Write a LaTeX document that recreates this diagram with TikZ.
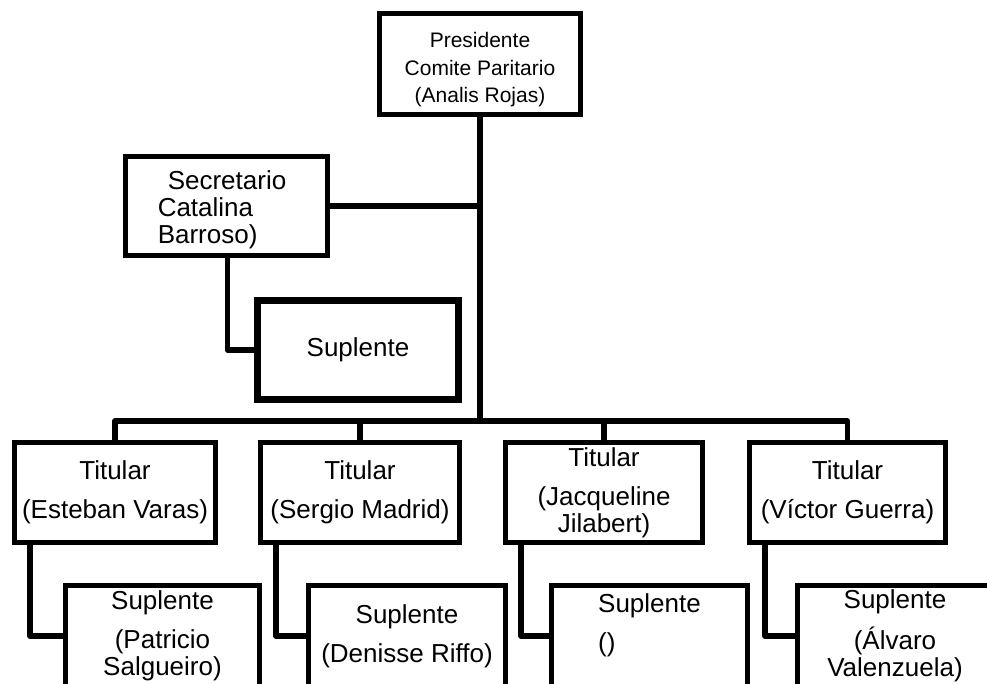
\documentclass[tikz,border=0pt]{standalone}
\usepackage{fontspec}
\setmainfont{Liberation Sans}
\begin{document}
\begin{tikzpicture}[x=1pt,y=-1pt,
	cargo/.style={draw,line width=5pt,minimum width=199pt,minimum height=100pt,inner sep=0pt,align=center,font=\fontsize{26}{27}\selectfont},
	enlace/.style={line width=5.5pt,line join=round}]
	\useasboundingbox (0,0) rectangle (987,683);
	\clip (0,0) rectangle (987,683);

	\draw (480,64) node[cargo,minimum width=201pt,minimum height=101pt,font=\fontsize{21}{27.5}\selectfont] (pres) {\rule{0pt}{27pt}Presidente\\Comite Paritario\\(Analis Rojas)};
	\draw (226.5,206) node[cargo,minimum width=202pt,minimum height=99pt,align=left] (secr) {\rule{0pt}{27pt}\hspace*{10pt}Secretario\hspace*{9pt}\\Catalina\\Barroso)};
	\draw (358,350) node[cargo,line width=7pt,minimum width=201pt,minimum height=99pt] (secsup) {Suplente};

	\draw (115,492.5) node[cargo,minimum width=201pt] (tit1) {Titular\\[12pt](Esteban Varas)};
	\draw (360,492.5) node[cargo] (tit2) {Titular\\[12pt](Sergio Madrid)};
	\draw (604,492.5) node[cargo,minimum width=197pt] (tit3) {Titular\\[12pt](Jacqueline\\Jilabert)};
	\draw (847.5,492.5) node[cargo,minimum width=196pt] (tit4) {Titular\\[12pt](Víctor Guerra)};

	\draw (162.5,636) node[cargo,minimum width=194pt,minimum height=101pt] (sup1) {Suplente\\[12pt](Patricio\\Salgueiro)};
	\draw (407,636) node[cargo,minimum width=197pt,minimum height=101pt] (sup2) {Suplente\\[12pt](Denisse Riffo)};
	\draw (649.5,636) node[cargo,minimum width=196pt,minimum height=101pt,align=left] (sup3) {Suplente\\[12pt]()\\~};
	\draw (895,636) node[cargo,minimum width=196pt,minimum height=101pt] (sup4) {Suplente\\[12pt](Álvaro\\Valenzuela)};

	\coordinate (bus) at (480,421);
	\draw[enlace] (pres.south) -- (bus);
	\draw[enlace] (secr.east) -- (secr.east -| bus);
	\draw[enlace] ([xshift=1pt]secr.south) |- (secsup.west);
	\draw[enlace] (tit1.north) |- (bus) -| (tit4.north);
	\draw[enlace] (tit2.north) -- (tit2.north |- bus);
	\draw[enlace] (tit3.north) -- (tit3.north |- bus);
	\foreach \i in {1,...,4}
		\draw[enlace] ([xshift=18pt]tit\i.south west) |- (sup\i.west);
\end{tikzpicture}
\end{document}
